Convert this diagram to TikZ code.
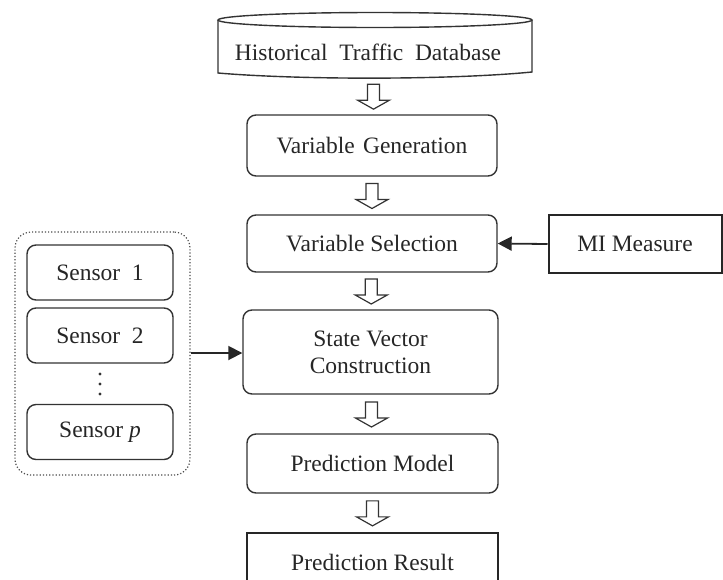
\documentclass[tikz,border=0pt]{standalone}
\usepackage{fontspec}
\setmainfont{Liberation Serif}
\usetikzlibrary{arrows.meta,calc}

\tikzset{
  lbl/.style={font=\fontsize{23.5}{27}\selectfont, text=black!85, align=center, inner sep=0pt},
  rbox/.style={lbl, draw=black!80, line width=1.4pt, rounded corners=9pt},
  sbox/.style={lbl, draw=black!85, line width=2pt},
  sensorbox/.style={rbox, minimum width=146pt, minimum height=55pt},
  feed/.style={draw=black!85, line width=1.8pt, -{Triangle[length=14pt,width=14pt]}},
  hollowdown/.pic={
    \draw[black!80, line width=1.2pt, line join=miter]
      (-6,-12) -- (6,-12) -- (6,4) -- (16,4) -- (0,13) -- (-16,4) -- (-6,4) -- cycle;
  }
}

\begin{document}
\begin{tikzpicture}[x=1pt, y=-1pt]
\useasboundingbox (0,0) rectangle (723,579);

% database cylinder
\node[lbl] (db) at (368,52) {Historical\ \ Traffic\ \ Database};
\draw[black!80, line width=1.4pt]
  (218,20) -- (218,73) .. controls (300,80) and (450,80) .. (532,72) -- (532,20);
\draw[black!80, line width=1.4pt] (375,20) ellipse [x radius=157, y radius=7.5];
\coordinate (dbs) at (375,78);

% processing chain
\node[rbox, minimum width=250pt, minimum height=61pt] (gen) at (372,145.5) {Variable\hspace{0.35em}Generation};
\node[rbox, minimum width=250pt, minimum height=57pt] (sel) at (372,243.5) {Variable Selection};
\node[sbox, minimum width=173pt, minimum height=58pt] (mi) at (635,244) {MI Measure};
\node[rbox, minimum width=255pt, minimum height=84pt] (svc) at (370.5,352) {State Vector\\Construction};
\node[rbox, minimum width=251pt, minimum height=59pt] (pm) at (372.5,463.5) {Prediction Model};
\node[sbox, minimum width=251pt, minimum height=60pt, anchor=north] (res) at (372.5,532) {};
\node[lbl] (restext) at (372.5,562) {Prediction Result};

% hollow block arrows between stages
\pic at ($(dbs)!0.5!(gen.north)$) {hollowdown};
\pic at ($(gen.south)!0.5!(sel.north)$) {hollowdown};
\pic at ($(sel.south)!0.5!(svc.north)$) {hollowdown};
\pic at ($(svc.south)!0.5!(pm.north)$) {hollowdown};
\pic at ($(pm.south)!0.5!(res.north)$) {hollowdown};

% sensor group
\node[draw=black!70, dotted, line width=1.2pt, rounded corners=16pt,
      minimum width=175pt, minimum height=243pt] (grp) at (102.5,353.5) {};
\node[sensorbox] (s1) at (100,272.5) {Sensor\ \ 1};
\node[sensorbox] (s2) at (100,335.5) {Sensor\ \ 2};
\foreach \yy in {374,384,394} \fill[black!80] (100,\yy) circle (1.6);
\node[sensorbox] (sp) at (100,432) {Sensor \textit{p}};

% side inputs
\draw[feed] (mi.west) -- (sel.east);
\draw[feed] (grp.east |- 0,353) -- (svc.west |- 0,353);

\end{tikzpicture}
\end{document}
